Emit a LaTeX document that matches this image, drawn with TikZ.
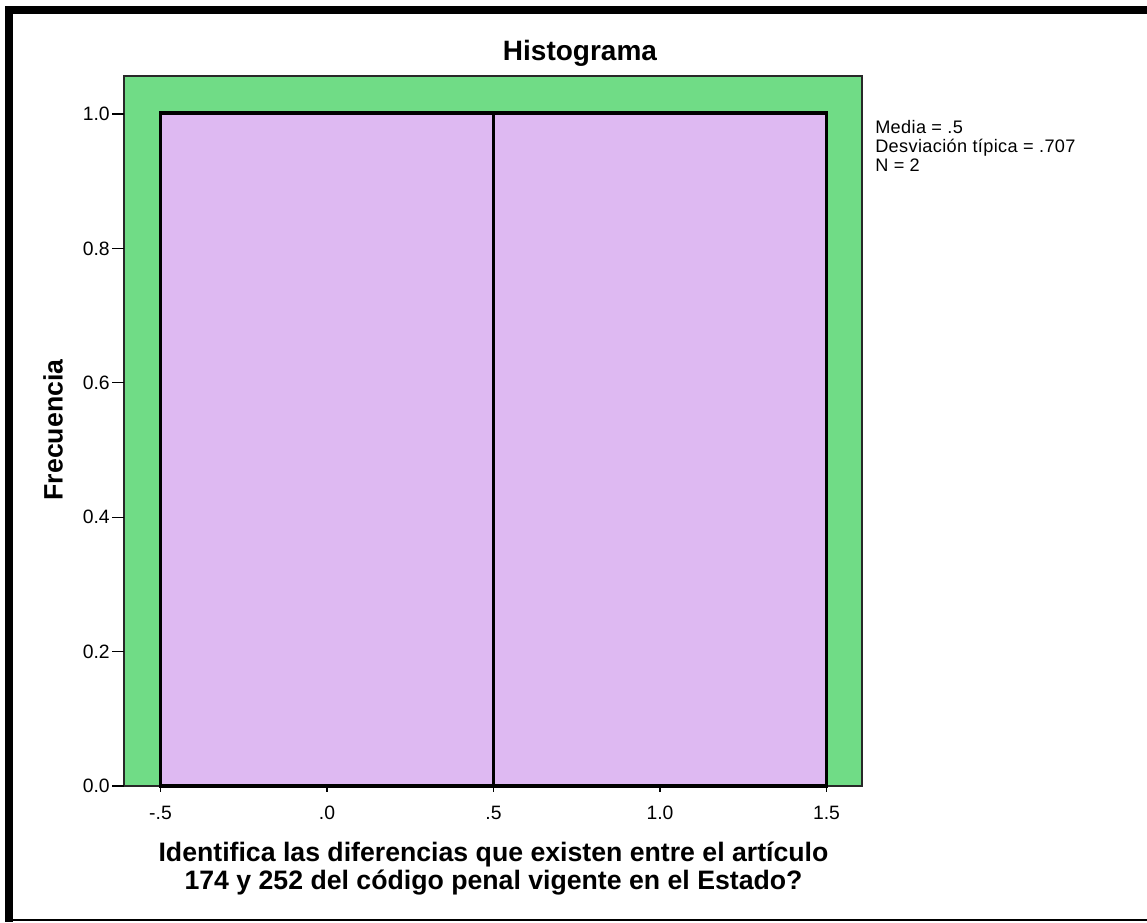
\documentclass[tikz,border=0pt]{standalone}
\usepackage{fontspec}
\setmainfont{Liberation Sans}
\newfontfamily\legfont[LetterSpace=2]{Liberation Sans}
\newfontfamily\tickfont{Liberation Sans}
\definecolor{plotgreen}{RGB}{112,220,134}
\definecolor{barpurple}{RGB}{222,185,242}
\definecolor{framegray}{RGB}{40,40,40}
\tikzset{
  ticklbl/.style={font=\tickfont\fontsize{14.5}{16}\selectfont, inner sep=0pt},
  axlbl/.style={font=\bfseries\fontsize{20}{21}\selectfont, inner sep=0pt, align=center},
  legtxt/.style={font=\legfont\fontsize{13.6}{14.25}\selectfont, inner sep=0pt, align=left},
  barbox/.style={fill=barpurple, draw=black, line width=2.4pt},
  tickline/.style={draw=black, line width=1pt}
}
\begin{document}
\begin{tikzpicture}[x=0.75pt,y=-0.75pt]
\useasboundingbox (0,0) rectangle (1147,922);
\fill[white] (0,0) rectangle (1147,922);
% outer frame
\fill[black] (5,6) rectangle (13,922);
\fill[black] (5,6) rectangle (1147,14);
\draw[black, line width=1.2pt] (5,920) -- (1147,920);
% plot area
\fill[plotgreen] (124,76) rectangle (862,786);
\draw[framegray, line width=1.1pt] (124,76) rectangle (862,786);
% bars
\draw[barbox] (160.5,113) rectangle (493.5,786);
\draw[barbox] (493.5,113) rectangle (826.5,786);
% y ticks
\foreach \v/\l in {0/0.0,1/0.2,2/0.4,3/0.6,4/0.8,5/1.0}{
  \pgfmathsetmacro{\yy}{786-134.4*\v}
  \draw[tickline] (112,\yy) -- (124,\yy);
  \node[ticklbl, anchor=east] (y\v) at (110,\yy) {\l};
}
% x ticks
\foreach \v/\l in {0/-.5,1/.0,2/.5,3/1.0,4/1.5}{
  \pgfmathsetmacro{\xx}{160.5+166.5*\v}
  \draw[tickline] (\xx,786) -- (\xx,792);
  \node[ticklbl, anchor=center] (x\v) at (\xx,813) {\l};
}
% title
\node[font=\bfseries\fontsize{21}{22}\selectfont, inner sep=0pt] (title) at (580,53) {Histograma};
% axis labels
\node[axlbl, anchor=base] (xlab1) at (493.5,861.5) {Identifica las diferencias que existen entre el artículo};
\node[axlbl, anchor=base] (xlab2) at (493.5,889) {174 y 252 del código penal vigente en el Estado?};
\node[axlbl, rotate=90] (ylab) at (53,430) {Frecuencia};
% legend
\node[legtxt, anchor=base west] (leg1) at (875,133) {Media = .5};
\node[legtxt, anchor=base west] (leg2) at (875,152.5) {Desviación típica = .707};
\node[legtxt, anchor=base west] (leg3) at (875,171.5) {N = 2};
\end{tikzpicture}
\end{document}
